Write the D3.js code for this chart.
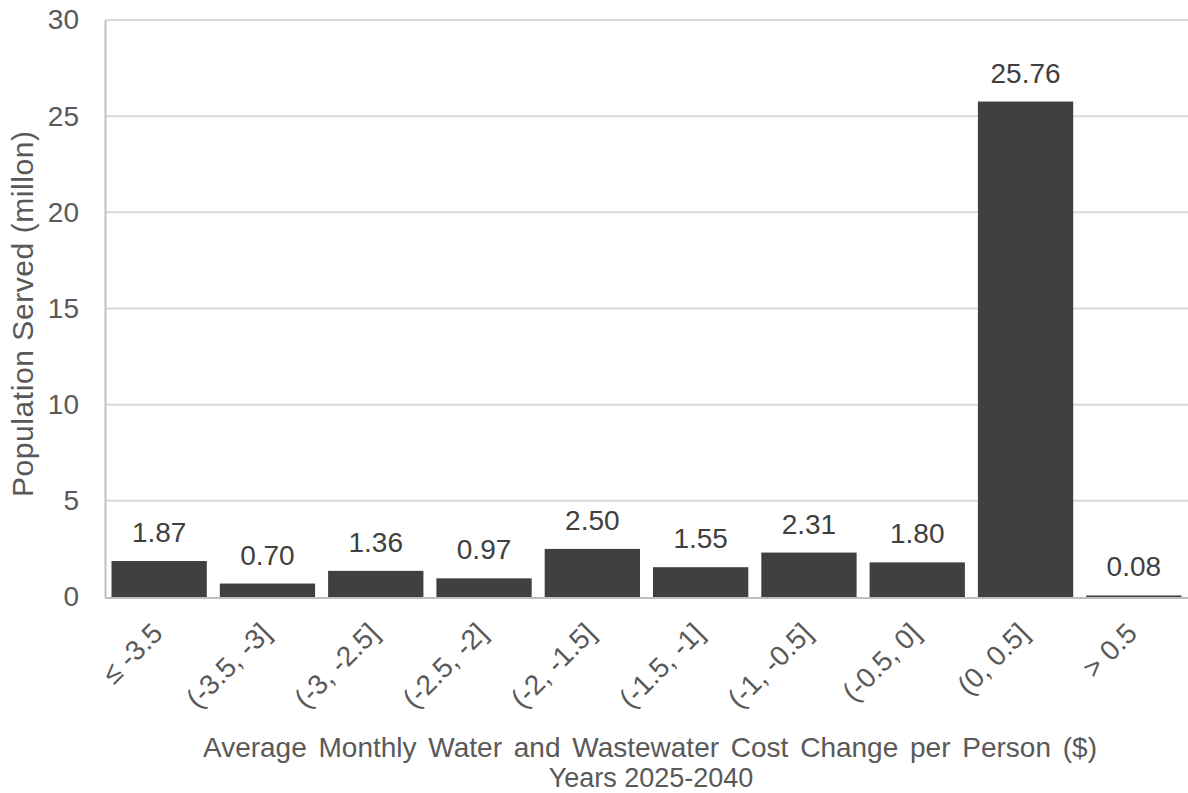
<!DOCTYPE html>
<html>
<head>
<meta charset="utf-8">
<script src="https://cdn.jsdelivr.net/npm/d3@7"></script>
<style>
  html, body { margin: 0; padding: 0; background: #fff; }
  svg { display: block; font-family: "Liberation Sans", Arial, sans-serif; }
</style>
</head>
<body>
<svg id="chart" width="1188" height="793"></svg>
<script>
// Cost-change bins (USD per person per month) and population served (millions)
const categories = ["≤ -3.5", "(-3.5, -3]", "(-3, -2.5]", "(-2.5, -2]", "(-2, -1.5]",
                    "(-1.5, -1]", "(-1, -0.5]", "(-0.5, 0]", "(0, 0.5]", "> 0.5"];
const population = [1.87, 0.70, 1.36, 0.97, 2.50, 1.55, 2.31, 1.80, 25.76, 0.08];
const yTicks = [0, 5, 10, 15, 20, 25, 30];
const xTitle = ["Average Monthly Water and Wastewater Cost Change per Person ($)", "Years 2025-2040"];
const yTitle = "Population Served (millon)";

const svg = d3.select("#chart");
const margin = { left: 105, right: 0, top: 20, bottom: 196 };
const W = 1188, H = 793;
const textColor = "#595959";

const x = d3.scaleBand()
  .domain(categories)
  .range([margin.left, W - margin.right])
  .paddingInner(0.12)
  .paddingOuter(0.06);

const y = d3.scaleLinear()
  .domain([0, 30])
  .range([H - margin.bottom, margin.top]);

// horizontal gridlines
svg.append("g")
  .selectAll("line")
  .data(yTicks.filter(d => d > 0))
  .join("line")
  .attr("x1", margin.left).attr("x2", W)
  .attr("y1", d => y(d)).attr("y2", d => y(d))
  .attr("stroke", "#d9d9d9").attr("stroke-width", 2);

// y axis labels
const yAxis = d3.axisLeft(y).tickValues(yTicks).tickSize(0).tickPadding(26);
svg.append("g")
  .attr("transform", `translate(${margin.left},0)`)
  .call(yAxis)
  .call(g => g.select(".domain").attr("stroke", "#bfbfbf").attr("stroke-width", 2))
  .call(g => g.selectAll("text")
    .attr("fill", textColor)
    .attr("font-size", 28)
    .attr("font-family", "Liberation Sans, Arial, sans-serif"));

// bars
svg.append("g")
  .selectAll("rect")
  .data(population)
  .join("rect")
  .attr("x", (d, i) => x(categories[i]))
  .attr("width", x.bandwidth())
  .attr("y", d => y(d))
  .attr("height", d => y(0) - y(d))
  .attr("fill", "#404040");

// x axis line
svg.append("line")
  .attr("x1", margin.left).attr("x2", W)
  .attr("y1", y(0) + 1).attr("y2", y(0) + 1)
  .attr("stroke", "#bfbfbf").attr("stroke-width", 2);

// value labels
svg.append("g")
  .selectAll("text")
  .data(population)
  .join("text")
  .attr("x", (d, i) => x(categories[i]) + x.bandwidth() / 2)
  .attr("y", d => y(d) - 19)
  .attr("text-anchor", "middle")
  .attr("fill", "#404040")
  .attr("font-size", 28)
  .text(d => d.toFixed(2));

// rotated category labels
svg.append("g")
  .selectAll("text")
  .data(categories)
  .join("text")
  .attr("transform", d => `translate(${x(d) + x.bandwidth() / 2 + 5},${y(0) + 38}) rotate(-45)`)
  .attr("text-anchor", "end")
  .attr("fill", textColor)
  .attr("font-size", 28)
  .text(d => d);

// x axis title (two lines)
svg.append("text")
  .attr("x", 650).attr("y", 757)
  .attr("text-anchor", "middle")
  .attr("fill", textColor)
  .attr("font-size", 28)
  .style("word-spacing", "4px")
  .text(xTitle[0]);
svg.append("text")
  .attr("x", 651).attr("y", 787)
  .attr("text-anchor", "middle")
  .attr("fill", textColor)
  .attr("font-size", 27)
  .text(xTitle[1]);

// y axis title
svg.append("text")
  .attr("transform", `translate(33,314) rotate(-90)`)
  .attr("text-anchor", "middle")
  .attr("fill", textColor)
  .attr("font-size", 30)
  .attr("textLength", 366)
  .attr("lengthAdjust", "spacing")
  .text(yTitle);
</script>
</body>
</html>
